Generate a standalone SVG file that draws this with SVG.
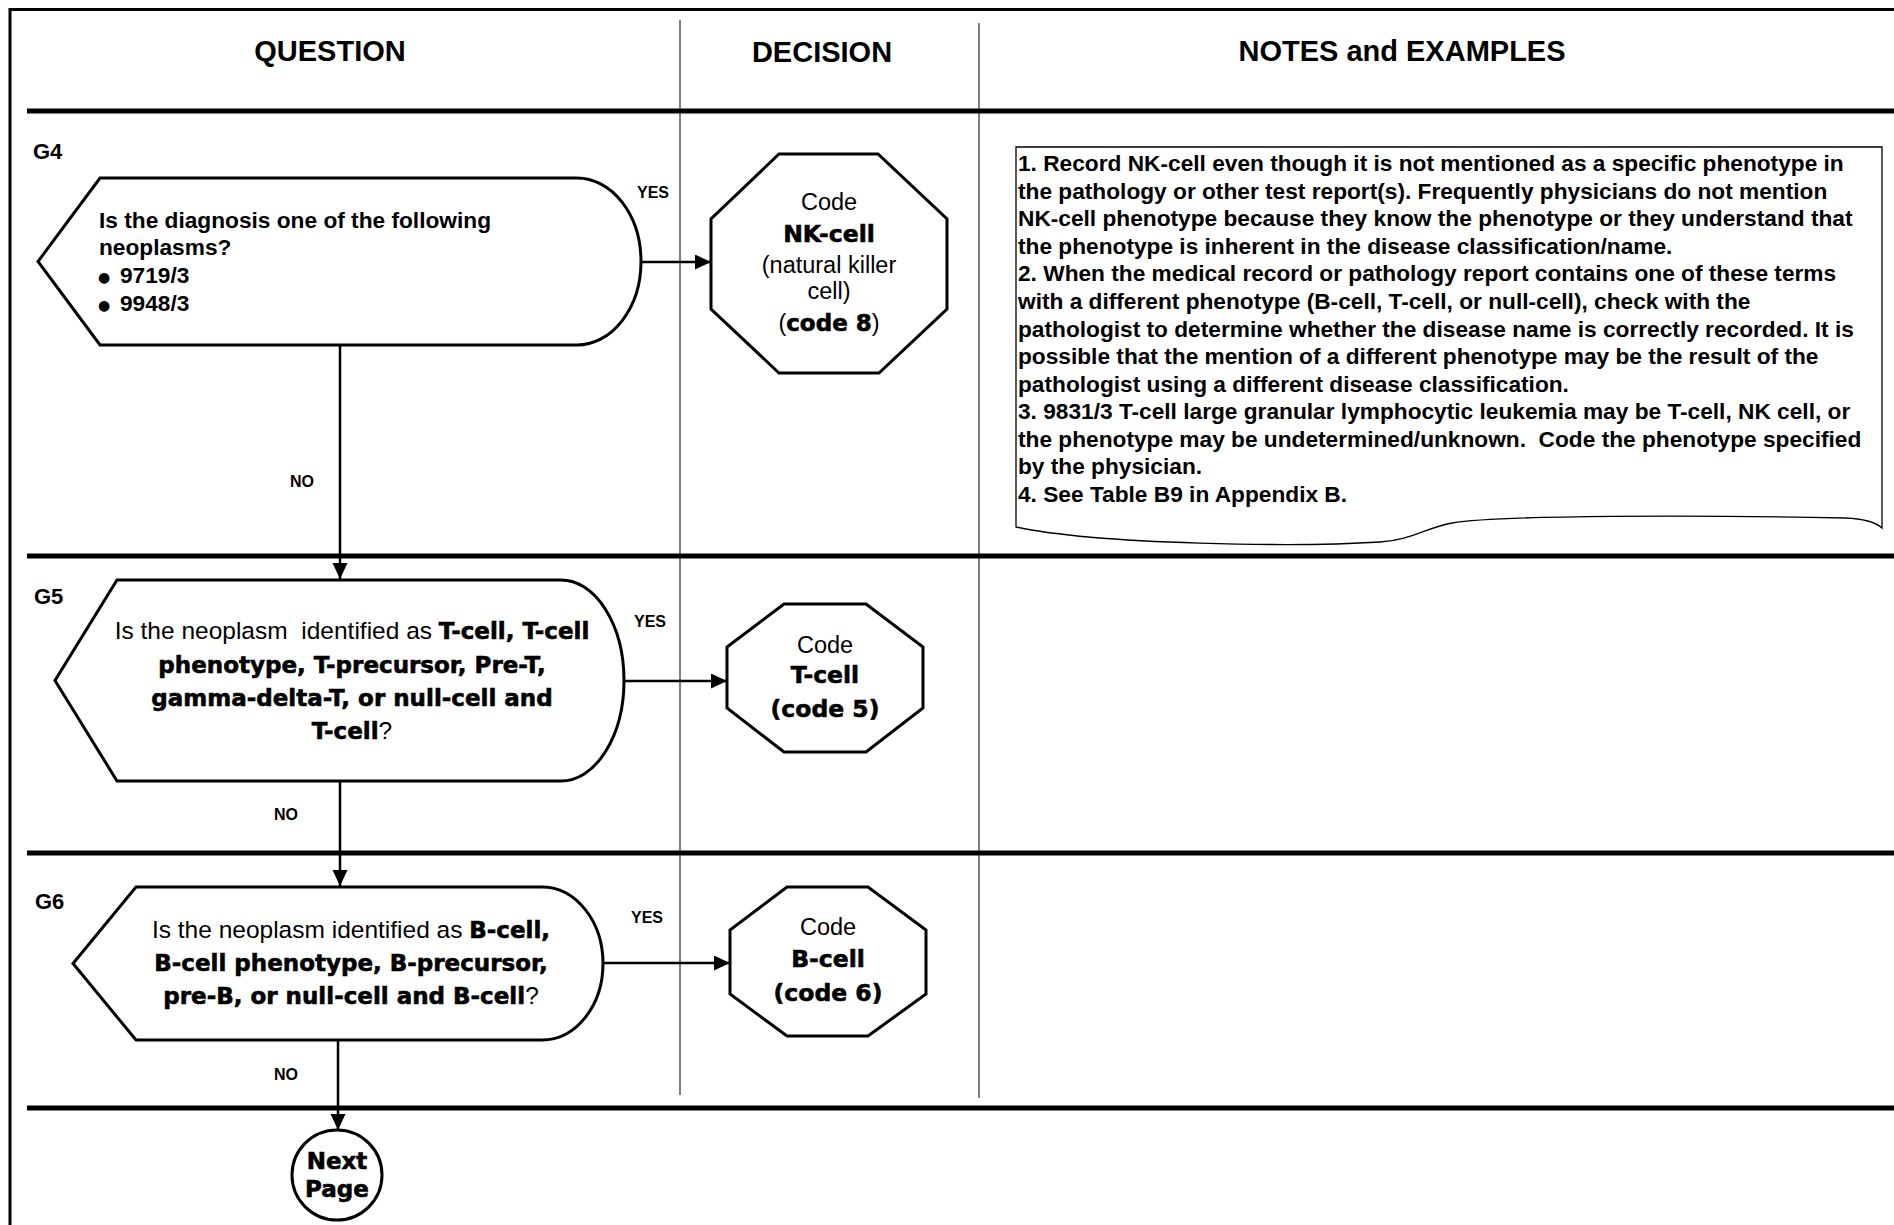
<svg xmlns="http://www.w3.org/2000/svg" width="1894" height="1225" viewBox="0 0 1894 1225">
<style>
text{font-family:"Liberation Sans",Arial,sans-serif;fill:#000}
.hd{font-size:29px;font-weight:bold;text-anchor:middle}
.gl{font-size:22px;font-weight:bold}
.lbl{font-size:16px;font-weight:bold}
.note{font-size:22.7px;font-weight:bold}
.q4{font-size:22.7px;font-weight:bold}
.bul{font-family:"DejaVu Sans",sans-serif;font-size:14px}
.q{font-size:24.5px;text-anchor:middle}
.hv{font-family:"DejaVu Sans",sans-serif;font-weight:bold;font-size:23px;stroke:#000;stroke-width:0.6}
.oc{font-size:23.5px;text-anchor:middle}
.shape{fill:#fff;stroke:#000;stroke-width:3}
.sep{stroke:#000;stroke-width:5}
.div{stroke:#000;stroke-width:1}
.con{stroke:#000;stroke-width:2.5;fill:none}
</style>
<defs>
<marker id="ah" markerUnits="userSpaceOnUse" markerWidth="17" markerHeight="16" refX="16" refY="7.5" orient="auto">
<path d="M0,0 L16,7.5 L0,15 Z" fill="#000"/>
</marker>
</defs>
<rect width="1894" height="1225" fill="#fff"/>
<g id="frame">
<path d="M10,1225 V9.5 H1894" fill="none" stroke="#000" stroke-width="3"/>
<line class="div" x1="680" y1="20" x2="680" y2="1095"/>
<line class="div" x1="979" y1="23" x2="979" y2="1098"/>
<line class="sep" x1="27" y1="111" x2="1894" y2="111"/>
<line class="sep" x1="27" y1="556" x2="1894" y2="556"/>
<line class="sep" x1="27" y1="853" x2="1894" y2="853"/>
<line class="sep" x1="27" y1="1108" x2="1894" y2="1108"/>
<text class="hd" x="330" y="61">QUESTION</text>
<text class="hd" x="822" y="62">DECISION</text>
<text class="hd" x="1402" y="61">NOTES and EXAMPLES</text>
<text class="gl" x="33" y="159">G4</text>
<text class="gl" x="34" y="604">G5</text>
<text class="gl" x="35" y="909">G6</text>
</g>
<g id="connectors">
<line class="con" x1="641" y1="262" x2="711" y2="262" marker-end="url(#ah)"/>
<line class="con" x1="340" y1="345" x2="340" y2="579" marker-end="url(#ah)"/>
<line class="con" x1="624" y1="681" x2="727" y2="681" marker-end="url(#ah)"/>
<line class="con" x1="340" y1="781" x2="340" y2="886" marker-end="url(#ah)"/>
<line class="con" x1="603" y1="963" x2="730" y2="963" marker-end="url(#ah)"/>
<line class="con" x1="338" y1="1040" x2="338" y2="1130" marker-end="url(#ah)"/>
<text class="lbl" x="637" y="198">YES</text>
<text class="lbl" x="302" y="487" text-anchor="middle">NO</text>
<text class="lbl" x="634" y="627">YES</text>
<text class="lbl" x="286" y="820" text-anchor="middle">NO</text>
<text class="lbl" x="631" y="923">YES</text>
<text class="lbl" x="286" y="1080" text-anchor="middle">NO</text>
</g>
<g id="G4">
<path class="shape" d="M100,178 H577 A64,83.5 0 0 1 577,345 H100 L38,261.5 Z"/>
<text class="q4" x="99" y="228">Is the diagnosis one of the following</text>
<text class="q4" x="99" y="255">neoplasms?</text>
<text class="q4" y="283"><tspan class="bul" x="98" dy="-1">●</tspan><tspan x="120" dy="1">9719/3</tspan></text>
<text class="q4" y="311"><tspan class="bul" x="98" dy="-1">●</tspan><tspan x="120" dy="1">9948/3</tspan></text>
</g>
<g id="NK">
<polygon class="shape" points="779,154 878,154 947,219 947,309 879,373 779,373 711,309 711,219"/>
<text class="oc" x="829" y="210">Code</text>
<text class="oc hv" x="829" y="242">NK-cell</text>
<text class="oc" x="829" y="272.5" font-size="24">(natural killer</text>
<text class="oc" x="829" y="299" font-size="24">cell)</text>
<text class="oc" x="829" y="331">(<tspan class="hv">code 8</tspan>)</text>
</g>
<g id="G5">
<path class="shape" d="M117,580 H561 A63,100.5 0 0 1 561,781 H117 L55,680.5 Z"/>
<text class="q" x="352" y="639" xml:space="preserve">Is the neoplasm  identified as <tspan class="hv">T-cell, T-cell</tspan></text>
<text class="q hv" x="352" y="673">phenotype, T-precursor, Pre-T,</text>
<text class="q hv" x="352" y="706">gamma-delta-T, or null-cell and</text>
<text class="q" x="352" y="739"><tspan class="hv">T-cell</tspan>?</text>
</g>
<g id="Tcell">
<polygon class="shape" points="784,604 866,604 923,647 923,708 866,752 784,752 727,708 727,647"/>
<text class="oc" x="825" y="653">Code</text>
<text class="oc hv" x="825" y="683">T-cell</text>
<text class="oc hv" x="825" y="717">(code 5)</text>
</g>
<g id="G6">
<path class="shape" d="M136,887 H542 A61,76.5 0 0 1 542,1040 H136 L73,963.5 Z"/>
<text class="q" x="351" y="938" xml:space="preserve">Is the neoplasm identified as <tspan class="hv">B-cell,</tspan></text>
<text class="q hv" x="351" y="971">B-cell phenotype, B-precursor,</text>
<text class="q" x="351" y="1004"><tspan class="hv">pre-B, or null-cell and B-cell</tspan>?</text>
</g>
<g id="Bcell">
<polygon class="shape" points="787,887 868,887 926,930 926,994 868,1036 787,1036 730,994 730,930"/>
<text class="oc" x="828" y="935">Code</text>
<text class="oc hv" x="828" y="967">B-cell</text>
<text class="oc hv" x="828" y="1001">(code 6)</text>
</g>
<g id="nextpage">
<circle class="shape" cx="337" cy="1175" r="45"/>
<text class="hv" x="337" y="1169" font-size="20" text-anchor="middle">Next</text>
<text class="hv" x="337" y="1197" font-size="20" text-anchor="middle">Page</text>
</g>
<g id="notes">
<path d="M1016,147 H1882 V528 Q1872,519 1845,518 C1700,515 1500,515 1452,523 C1425,528 1412,540 1380,542 C1300,547 1100,545 1016,527 Z" fill="#fff" stroke="#000" stroke-width="1.3"/>
<text class="note" x="1018" y="171">1. Record NK-cell even though it is not mentioned as a specific phenotype in</text>
<text class="note" x="1018" y="198.6">the pathology or other test report(s). Frequently physicians do not mention</text>
<text class="note" x="1018" y="226.2">NK-cell phenotype because they know the phenotype or they understand that</text>
<text class="note" x="1018" y="253.7">the phenotype is inherent in the disease classification/name.</text>
<text class="note" x="1018" y="281.3">2. When the medical record or pathology report contains one of these terms</text>
<text class="note" x="1018" y="308.9">with a different phenotype (B-cell, T-cell, or null-cell), check with the</text>
<text class="note" x="1018" y="336.5">pathologist to determine whether the disease name is correctly recorded. It is</text>
<text class="note" x="1018" y="364">possible that the mention of a different phenotype may be the result of the</text>
<text class="note" x="1018" y="391.6">pathologist using a different disease classification.</text>
<text class="note" x="1018" y="419.2">3. 9831/3 T-cell large granular lymphocytic leukemia may be T-cell, NK cell, or</text>
<text class="note" x="1018" y="446.8" xml:space="preserve">the phenotype may be undetermined/unknown.  Code the phenotype specified</text>
<text class="note" x="1018" y="474.4">by the physician.</text>
<text class="note" x="1018" y="502">4. See Table B9 in Appendix B.</text>
</g>
</svg>
